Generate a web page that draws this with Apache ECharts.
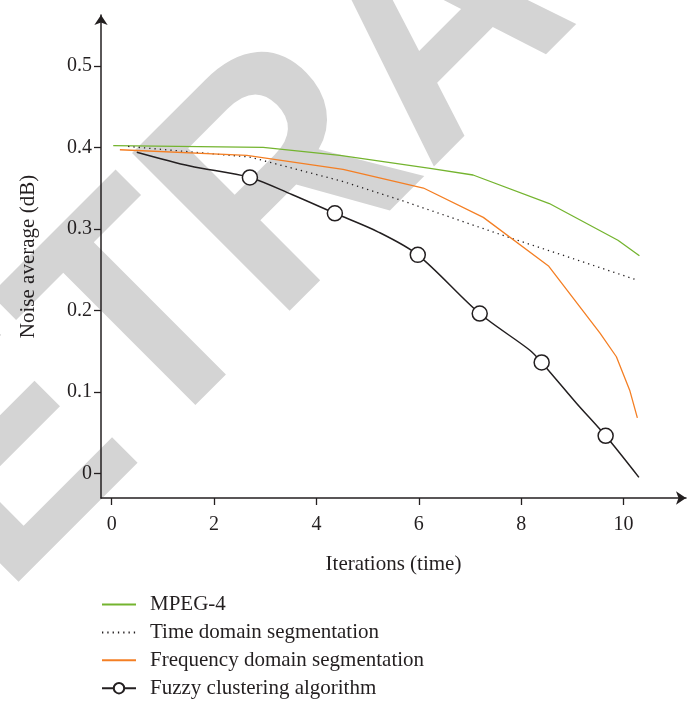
<!DOCTYPE html>
<html>
<head>
<meta charset="utf-8">
<script src="https://cdn.jsdelivr.net/npm/echarts@6/dist/echarts.min.js"></script>
<style>html,body{margin:0;padding:0;background:#fff;}#c{width:692px;height:703px;}</style>
</head>
<body>
<div id="c"></div>
<script>
// ---- data ----
const xTicks = [0, 2, 4, 6, 8, 10];
const yTicks = [0, 0.1, 0.2, 0.3, 0.4, 0.5];
const seriesNames = ['MPEG-4', 'Time domain segmentation', 'Frequency domain segmentation', 'Fuzzy clustering algorithm'];
const mpeg4 = [[0.03,0.402],[2.96,0.400],[4.46,0.390],[6.22,0.374],[7.06,0.366],[8.55,0.331],[9.89,0.286],[10.31,0.267]];
const timeDomain = [[0.32,0.401],[2.70,0.388],[4.52,0.358],[5.70,0.334],[7.78,0.289],[8.89,0.266],[10.22,0.238]];
const freqDomain = [[0.16,0.397],[2.64,0.390],[4.52,0.373],[6.09,0.350],[7.26,0.314],[8.54,0.254],[9.54,0.172],[9.86,0.143],[10.12,0.102],[10.27,0.068]];
const fuzzy = [[0.49,0.394],[1.53,0.377],[2.70,0.363],[3.52,0.342],[4.36,0.319],[5.21,0.296],[5.98,0.268],[7.19,0.196],[8.17,0.151],[8.40,0.136],[9.08,0.086],[9.65,0.046],[10.30,-0.005]];
const fuzzyMarkerX = [2.70, 4.36, 5.98, 7.19, 8.40, 9.65];
const watermark = 'RETRACTED';

const ink = '#231f20';
const serif = '"Liberation Serif", "Times New Roman", serif';
const chart = echarts.init(document.getElementById('c'), null, {renderer: 'canvas'});

const fuzzyData = fuzzy.map(p => fuzzyMarkerX.includes(p[0]) ? {value: p} : {value: p, symbol: 'none'});
const noSymbol = {opacity: 0};

chart.setOption({
  animation: false,
  backgroundColor: '#fff',
  graphic: [{
    type: 'text', x: -212, y: 686, rotation: Math.PI / 4, scaleY: 1.08, z: -1, silent: true,
    style: {text: watermark, fontSize: 300, fontWeight: 'bold', fontFamily: '"Liberation Sans", Arial, sans-serif',
      fill: '#d4d4d4', align: 'left', verticalAlign: 'middle'}
  }],
  grid: {left: 101, right: 6, top: 15, bottom: 205, containLabel: false},
  legend: {
    orient: 'vertical', left: 101, top: 594, padding: 0, itemWidth: 34, itemHeight: 13, itemGap: 6.9,
    data: [
      {name: seriesNames[0], itemStyle: noSymbol},
      {name: seriesNames[1], itemStyle: noSymbol},
      {name: seriesNames[2], itemStyle: noSymbol},
      {name: seriesNames[3]}
    ],
    textStyle: {fontFamily: serif, fontSize: 21, color: ink, lineHeight: 21, padding: [0, 0, 0, 9]}
  },
  xAxis: {
    type: 'value', min: -0.209, max: 11.22,
    name: 'Iterations (time)', nameLocation: 'middle', nameGap: 56,
    nameTextStyle: {fontFamily: serif, fontSize: 21, color: ink},
    axisLine: {show: true, onZero: false, symbol: ['none', 'arrow'], symbolSize: [10, 10], lineStyle: {color: ink, width: 1.5}},
    axisTick: {show: true, length: 7, inside: false, customValues: xTicks, lineStyle: {color: ink, width: 1.3}},
    axisLabel: {customValues: xTicks, margin: 17, fontFamily: serif, fontSize: 20, color: ink},
    splitLine: {show: false}
  },
  yAxis: {
    type: 'value', min: -0.0303, max: 0.5623,
    name: 'Noise average (dB)', nameLocation: 'middle', nameGap: 62, nameRotate: 90,
    nameTextStyle: {fontFamily: serif, fontSize: 21, color: ink},
    axisLine: {show: true, onZero: false, symbol: ['none', 'arrow'], symbolSize: [10, 10], lineStyle: {color: ink, width: 1.5}},
    axisTick: {show: true, length: 7, inside: false, customValues: yTicks, lineStyle: {color: ink, width: 1.3}},
    axisLabel: {customValues: yTicks, margin: 9, fontFamily: serif, fontSize: 20, color: ink,
      formatter: v => (Math.abs(v) < 1e-9 ? '0' : v.toFixed(1))},
    splitLine: {show: false}
  },
  series: [
    {name: seriesNames[0], type: 'line', data: mpeg4, symbol: 'none', color: '#74b42f',
      lineStyle: {color: '#74b42f', width: 1.3}},
    {name: seriesNames[1], type: 'line', data: timeDomain, symbol: 'none', color: ink,
      lineStyle: {color: ink, width: 1.3, type: [1.3, 4]}},
    {name: seriesNames[2], type: 'line', data: freqDomain, symbol: 'none', color: '#f47f24',
      lineStyle: {color: '#f47f24', width: 1.3}},
    {name: seriesNames[3], type: 'line', data: fuzzyData, symbol: 'circle', symbolSize: 15, showAllSymbol: true,
      smooth: 0.3,
      itemStyle: {color: '#fff', borderColor: ink, borderWidth: 1.5},
      lineStyle: {color: ink, width: 1.5}, z: 3}
  ]
});
</script>
</body>
</html>
